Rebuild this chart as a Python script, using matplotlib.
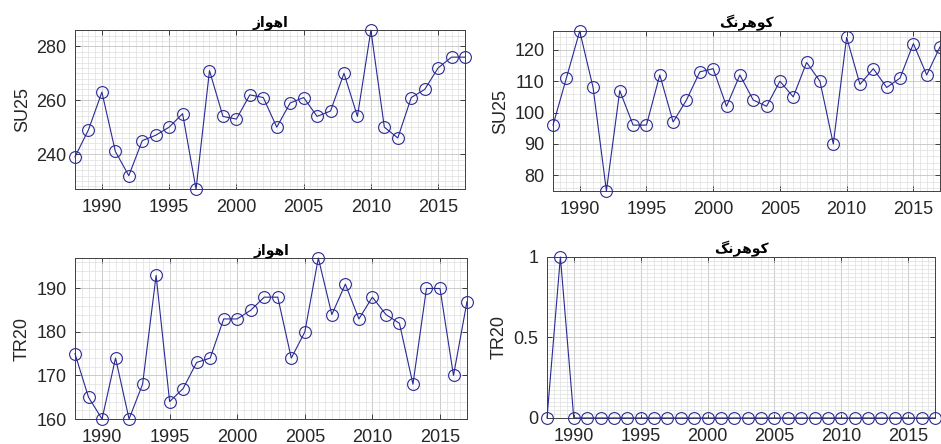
import numpy as np
import matplotlib
matplotlib.use("Agg")
import matplotlib.pyplot as plt
from matplotlib.ticker import MultipleLocator

# data (1988-2017)
years = list(range(1988, 2018))

su25_ahvaz = [239, 249, 263, 241, 232, 245, 247, 250, 255, 227,
              271, 254, 253, 262, 261, 250, 259, 261, 254, 256,
              270, 254, 286, 250, 246, 261, 264, 272, 276, 276]
su25_kuhrang = [96, 111, 126, 108, 75, 107, 96, 96, 112, 97,
                104, 113, 114, 102, 112, 104, 102, 110, 105, 116,
                110, 90, 124, 109, 114, 108, 111, 122, 112, 121]
tr20_ahvaz = [175, 165, 160, 174, 160, 168, 193, 164, 167, 173,
              174, 183, 183, 185, 188, 188, 174, 180, 197, 184,
              191, 183, 188, 184, 182, 168, 190, 190, 170, 187]
tr20_kuhrang = [0, 1, 0, 0, 0, 0, 0, 0, 0, 0,
                0, 0, 0, 0, 0, 0, 0, 0, 0, 0,
                0, 0, 0, 0, 0, 0, 0, 0, 0, 0]

titles = ["اهواز", "کوهرنگ", "اهواز", "کوهرنگ"]
ylabels = ["SU25", "SU25", "TR20", "TR20"]
xticks = [1990, 1995, 2000, 2005, 2010, 2015]


# matplotlib has no Arabic shaping, so pick the joined glyph forms by hand
# forms: isolated, final, initial, medial (None = letter does not join forward)
FORMS = {
    "ا": ("\uFE8D", "\uFE8E", None, None),
    "ز": ("\uFEAF", "\uFEB0", None, None),
    "ر": ("\uFEAD", "\uFEAE", None, None),
    "و": ("\uFEED", "\uFEEE", None, None),
    "ه": ("\uFEE9", "\uFEEA", "\uFEEB", "\uFEEC"),
    "ن": ("\uFEE5", "\uFEE6", "\uFEE7", "\uFEE8"),
    "ک": ("\uFB8E", "\uFB8F", "\uFB90", "\uFB91"),
    "گ": ("\uFB92", "\uFB93", "\uFB94", "\uFB95"),
}


def shape(word):
    out = []
    for i, ch in enumerate(word):
        prev_joins = i > 0 and FORMS[word[i - 1]][2] is not None
        next_exists = i < len(word) - 1
        f = FORMS[ch]
        can_fwd = f[2] is not None and next_exists
        if prev_joins and can_fwd:
            out.append(f[3])
        elif prev_joins:
            out.append(f[1])
        elif can_fwd:
            out.append(f[2])
        else:
            out.append(f[0])
    return "".join(reversed(out))


plt.rcParams["font.family"] = ["Liberation Sans", "DejaVu Sans"]

fig = plt.figure(figsize=(9.41, 4.44), dpi=100)

positions = [
    [0.0797, 0.574, 0.4145, 0.358],
    [0.5877, 0.570, 0.4113, 0.360],
    [0.0797, 0.0563, 0.4166, 0.3626],
    [0.5813, 0.0586, 0.4123, 0.3626],
]
series = [su25_ahvaz, su25_kuhrang, tr20_ahvaz, tr20_kuhrang]
ylims = [(227, 286), (75, 126), (160, 197), (0, 1)]
ymajor = [20, 10, 10, 0.5]
yminor = [2, 2, 2, 0.025]

for k in range(4):
    ax = fig.add_axes(positions[k])
    ax.plot(years, series[k], "-o", color="#2a2a94", lw=0.8,
            ms=8.5, mfc="none", mew=0.8, clip_on=False, zorder=3)
    ax.set_xlim(1988, 2017)
    ax.set_ylim(*ylims[k])
    ax.set_xticks(xticks)
    ax.yaxis.set_major_locator(MultipleLocator(ymajor[k]))
    ax.xaxis.set_minor_locator(MultipleLocator(0.5))
    ax.yaxis.set_minor_locator(MultipleLocator(yminor[k]))
    if k == 3:
        ax.set_yticks([0, 0.5, 1])
        ax.set_yticklabels(["0", "0.5", "1"])
    ax.grid(which="major", color="#c4c4c4", lw=0.6)
    ax.grid(which="minor", color="#dedede", lw=0.5)
    ax.set_axisbelow(True)
    ax.tick_params(which="major", direction="in", length=3.5, width=0.6,
                   top=True, right=True, labelsize=13, colors="#262626")
    ax.tick_params(axis="x", which="major", pad=7)
    ax.tick_params(axis="y", which="major", pad=6)
    ax.tick_params(which="minor", length=0)
    for s in ax.spines.values():
        s.set_color("#404040")
        s.set_linewidth(0.7)
    ax.set_ylabel(ylabels[k], fontsize=13, color="#262626", labelpad=4)
    ax.set_title(shape(titles[k]), fontsize=10, fontweight="bold",
                 family=["DejaVu Sans"], pad=3)

fig.savefig("out.png", dpi=100)
